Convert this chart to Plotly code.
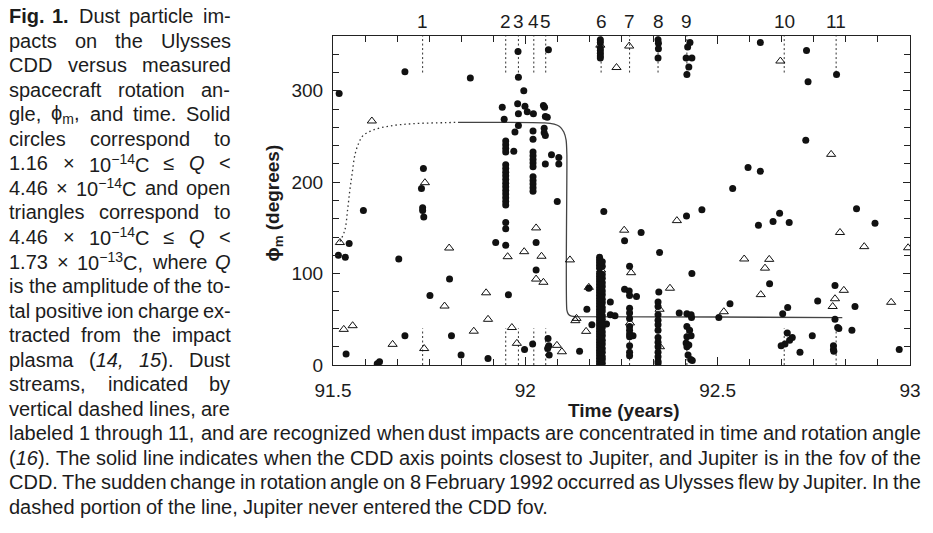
import re
import plotly.graph_objects as go

# ---------------- data ----------------
stream_t = [91.733, 91.949, 91.982, 92.022, 92.053, 92.197, 92.271, 92.345, 92.420, 92.673, 92.808]
stream_labels = ["1", "2", "3", "4", "5", "6", "7", "8", "9", "10", "11"]

# solid circles: 1.16e-14 C <= Q < 4.46e-14 C
circle_t = [
    91.516, 91.687, 91.857, 91.735, 91.730, 91.733, 91.733, 91.736, 91.579, 91.542,
    91.514, 91.532, 91.671, 91.803, 91.752, 91.687, 91.808, 91.534, 91.615, 91.621,
    91.833, 91.903, 91.923, 91.940, 91.945,
    91.949, 91.949, 91.949, 91.949, 91.949, 91.949, 91.949, 91.949, 91.949, 91.949,
    91.949, 91.949, 91.949, 91.949, 91.949, 91.949, 91.949, 91.949, 91.949,
    91.956, 91.970, 91.973, 91.982, 91.981, 91.982, 91.996, 91.980, 91.999, 92.005,
    92.021, 91.982, 92.060, 92.047, 92.050, 92.052, 92.057, 92.049, 92.049, 92.052,
    92.020, 92.020,
    92.020, 92.020, 92.020, 92.020, 92.020, 92.020, 92.020, 92.020, 92.020, 92.020,
    92.068, 92.087, 92.052, 92.087, 92.083, 92.028, 92.028, 91.998, 92.019, 92.059,
    92.061, 92.058, 92.062, 92.141, 92.165, 92.160, 92.173, 92.204, 92.221, 92.221,
    92.233, 92.211,
    92.195, 92.195, 92.195, 92.195, 92.195, 92.195, 92.195,
    92.193, 92.193, 92.193, 92.193, 92.193, 92.193, 92.193, 92.193, 92.193, 92.193,
    92.193, 92.193, 92.193, 92.193, 92.193, 92.193, 92.193, 92.193, 92.193, 92.193,
    92.193, 92.193, 92.193, 92.193, 92.193, 92.193, 92.193, 92.193, 92.193, 92.193,
    92.193, 92.193, 92.193, 92.193, 92.193, 92.193, 92.193, 92.193, 92.193,
    92.200, 92.200, 92.200, 92.200, 92.200, 92.200, 92.200, 92.200, 92.200, 92.200,
    92.200, 92.200, 92.200, 92.200, 92.200, 92.200, 92.200, 92.200, 92.200, 92.200,
    92.200, 92.200, 92.200, 92.200, 92.200,
    92.258, 92.301, 92.271, 92.258, 92.270, 92.271, 92.289,
    92.271, 92.271, 92.271, 92.271, 92.271, 92.271, 92.271, 92.271, 92.271, 92.271,
    92.280,
    92.349, 92.347, 92.345, 92.345,
    92.345, 92.345, 92.345, 92.345, 92.345, 92.345, 92.345, 92.345, 92.345, 92.345, 92.345,
    92.345, 92.346, 92.346, 92.345,
    92.428, 92.422, 92.418, 92.433, 92.425, 92.420,
    92.433, 92.400, 92.420, 92.431, 92.432, 92.420, 92.427, 92.420, 92.431, 92.418,
    92.425, 92.420, 92.423, 92.430, 92.434,
    92.419, 92.459,
    92.503, 92.532, 92.606, 92.644, 92.661, 92.686, 92.635, 92.579, 92.611, 92.539,
    92.611, 92.731, 92.735, 92.809, 92.729, 92.861, 92.909, 92.669, 92.682, 92.760,
    92.681, 92.694, 92.687, 92.675, 92.665, 92.714, 92.746,
    92.805, 92.805, 92.812, 92.815, 92.801, 92.801, 92.802, 92.857, 92.849, 92.972,
]
circle_phi = [
    297, 321, 314, 215, 193, 172, 169, 162, 169, 133,
    120, 118, 116, 94, 76, 32, 32, 12, 1.5, 3.5,
    11, 7, 134, 282, 269,
    245, 241, 237, 233, 219, 215, 211, 207, 203, 199,
    195, 191, 187, 183, 179, 175, 156, 149, 131,
    77, 234, 255, 262, 343, 315, 300, 286, 283, 277,
    275, 275, 345, 284, 282, 272, 271, 259, 254, 251,
    256, 247,
    233, 229, 225, 221, 217, 206, 202, 198, 194, 190,
    230, 227, 220, 220, 179, 134, 104, 17, 23, 29,
    21, 18, 11, 15, 84, 61, 44, 168, 69, 55,
    54, 45,
    356, 353, 347, 344, 341, 338, 336,
    1, 4, 7, 10, 13, 16, 19, 22, 25, 28,
    31, 34, 37, 40, 43, 46, 49, 52, 55, 58,
    61, 64, 67, 70, 73, 76, 79, 82, 85, 88,
    91, 94, 97, 100, 106, 109, 112, 115, 118,
    2, 6, 9, 14, 18, 23, 27, 32, 36, 41,
    45, 50, 54, 59, 63, 68, 72, 77, 81, 86,
    90, 95, 99, 108, 113,
    136, 145, 108, 83, 81, 76, 75,
    62, 57, 51, 42, 38, 34, 31, 21, 14, 10,
    32,
    123, 80, 69, 64,
    55, 49, 44, 38, 30, 25, 20, 14, 9, 4, 2,
    356, 352, 346, 336,
    353, 348, 336, 336, 326, 318,
    100, 57, 56, 55, 52, 42, 38, 31, 32, 24,
    22, 20, 11, 6, 5,
    163, 170,
    52, 67, 153, 157, 166, 156, 89, 216, 212, 193,
    353, 344, 310, 318, 246, 171, 155, 56, 63, 70,
    35, 30, 27, 23, 21, 14, 32,
    87, 50, 41, 40, 21, 17, 15, 64, 38, 17,
]

# open triangles: 4.46e-14 C <= Q < 1.73e-13 C
tri_t = [
    91.601, 91.739, 91.518, 91.802, 91.790, 91.898, 91.903, 91.528, 91.551, 91.655,
    91.737, 91.866, 91.954, 91.965, 91.978, 91.997, 92.028, 92.042, 92.028, 92.047,
    92.082, 92.095, 92.116, 92.130, 92.133, 92.158, 92.165, 92.270, 92.237, 92.257,
    92.275, 92.376, 92.349, 92.272, 92.350, 92.394, 92.516, 92.569, 92.612, 92.623,
    92.634, 92.663, 92.795, 92.818, 92.881, 92.995, 92.828, 92.805, 92.799, 92.951,
    92.197, 92.195,
]
tri_phi = [
    267, 199.5, 134, 128, 64.5, 79, 50, 39, 43, 22.6,
    18, 37, 118.5, 41, 23.7, 124, 150, 119, 94, 90.5,
    21.5, 14.5, 115, 48.5, 51, 36.8, 85, 349, 325.5, 147.5,
    101, 84, 61, 46, 20, 158, 58.3, 116, 77, 106,
    115.6, 332.6, 230.5, 145, 129.5, 128.3, 81.7, 72.5, 64, 68.6,
    104, 350,
]

# CDD axis closest to Jupiter: dotted part (Jupiter never in fov) and solid part
jup_dotted_t = [91.518, 91.531, 91.538, 91.544, 91.550, 91.557, 91.567, 91.578, 91.604, 91.647, 91.707, 91.793, 91.825]
jup_dotted_phi = [135, 148, 170, 192, 210, 230, 243, 251, 257, 261.5, 264, 265.2, 265.5]
jup_solid_t = [91.825, 92.050, 92.075, 92.089, 92.100, 92.106, 92.108, 92.108, 92.112, 92.120, 92.135, 92.500, 92.824]
jup_solid_phi = [265.5, 265, 263.5, 261, 255, 246, 230, 60, 55.5, 53.5, 53, 52.5, 51.8]

x_tick_vals = [91.5, 92, 92.5, 93]
x_tick_text = ["91.5", "92", "92.5", "93"]
y_tick_vals = [0, 100, 200, 300]
y_tick_text = ["0", "100", "200", "300"]

# caption text, line by line (words separated by spaces)
caption_column = [
    "<b>Fig.</b> <b>1.</b> Dust particle im-",
    "pacts on the Ulysses",
    "CDD versus measured",
    "spacecraft rotation an-",
    "gle, ϕ<sub>m</sub>, and time. Solid",
    "circles correspond to",
    "1.16 × 10<sup>−14</sup>C ≤ <i>Q</i> &lt;",
    "4.46 × 10<sup>−14</sup>C and open",
    "triangles correspond to",
    "4.46 × 10<sup>−14</sup>C ≤ <i>Q</i> &lt;",
    "1.73 × 10<sup>−13</sup>C, where <i>Q</i>",
    "is the amplitude of the to-",
    "tal positive ion charge ex-",
    "tracted from the impact",
    "plasma (<i>14,</i> <i>15</i>). Dust",
    "streams, indicated by",
    "vertical dashed lines, are",
]
caption_wide = [
    "labeled 1 through 11, and are recognized when dust impacts are concentrated in time and rotation angle",
    "(<i>16</i>). The solid line indicates when the CDD axis points closest to Jupiter, and Jupiter is in the fov of the",
    "CDD. The sudden change in rotation angle on 8 February 1992 occurred as Ulysses flew by Jupiter. In the",
]
caption_last = "dashed portion of the line, Jupiter never entered the CDD fov."

# ---------------- layout geometry ----------------
W, H = 933, 533
L, R, T, B = 333, 916, 36, 365
FONT = "Liberation Sans, Arial, Helvetica, sans-serif"
INK = "#1c1c1c"


def px_x(px):
    return (px - L) / (R - L)


def px_y(py):
    return (B - py) / (B - T)


# Arial / Liberation Sans advance widths (1/1000 em)
CW = {' ': 278, '!': 278, '(': 333, ')': 333, ',': 278, '-': 333, '.': 278, '<': 584, '=': 584,
      '>': 584, '≤': 549, '×': 584, '−': 584, 'ϕ': 600}
for ch in '0123456789':
    CW[ch] = 556
CW.update(dict(zip('ABCDEFGHIJKLMNOPQRSTUVWXYZ',
                   [667, 667, 722, 722, 667, 611, 778, 722, 278, 500, 667, 556, 833, 722, 778, 667,
                    778, 722, 667, 611, 722, 667, 944, 667, 667, 611])))
CW.update(dict(zip('abcdefghijklmnopqrstuvwxyz',
                   [556, 556, 500, 556, 556, 278, 556, 556, 222, 222, 500, 222, 833, 556, 556, 556,
                    556, 333, 500, 278, 556, 500, 722, 500, 500, 500])))

FS = 20  # caption font size


def tok_width(tok):
    w = 0.0
    scale = 1.0
    for part in re.split(r'(<sup>|</sup>|<sub>|</sub>)', tok):
        if part in ('<sup>', '<sub>'):
            scale = 0.7
            continue
        if part in ('</sup>', '</sub>'):
            scale = 1.0
            continue
        plain = re.sub(r'<[^>]+>', '', part).replace('&lt;', '<')
        w += sum(CW.get(c, 556) for c in plain) * scale
    return w * FS / 1000.0


annotations = []


def place_line(markup, y_center, x_left, x_right=None):
    words = markup.split(' ')
    widths = [tok_width(wd) for wd in words]
    if x_right is None or len(words) == 1:
        gap = CW[' '] * FS / 1000.0
    else:
        gap = (x_right - x_left - sum(widths)) / (len(words) - 1)
    x = x_left
    for wd, w in zip(words, widths):
        annotations.append(dict(
            text=wd, x=px_x(x - 2), y=px_y(y_center), xref="paper", yref="paper",
            xanchor="left", yanchor="middle", showarrow=False,
            font=dict(family=FONT, size=FS, color=INK)))
        x += w + gap


LINE0, LSTEP = 16, 24.55
for i, ln in enumerate(caption_column):
    place_line(ln, LINE0 + LSTEP * i, 6, 229)
for j, ln in enumerate(caption_wide):
    place_line(ln, LINE0 + LSTEP * (len(caption_column) + j), 6, 927)
place_line(caption_last, LINE0 + LSTEP * (len(caption_column) + len(caption_wide)), 6)

# stream labels above the frame
for t, lab in zip(stream_t, stream_labels):
    annotations.append(dict(text=lab, x=t, y=px_y(22), xref="x", yref="paper",
                            xanchor="center", yanchor="middle", showarrow=False,
                            font=dict(family=FONT, size=19, color=INK)))

# axis titles
annotations.append(dict(text="<b>Time (years)</b>", x=px_x(627), y=px_y(410), xref="paper", yref="paper",
                        xanchor="center", yanchor="middle", showarrow=False,
                        font=dict(family=FONT, size=19, color=INK)))
annotations.append(dict(text="<b>ϕ<sub>m</sub> (degrees)</b>", x=px_x(273), y=px_y(203), xref="paper",
                        yref="paper", xanchor="center", yanchor="middle", showarrow=False, textangle=-90,
                        font=dict(family=FONT, size=19, color=INK)))

# ---------------- traces ----------------
fig = go.Figure()

sx, sy = [], []
for t in stream_t:
    sx += [t, t, None, t, t, None]
    sy += [320, 360, None, 0, 40, None]
fig.add_trace(go.Scatter(x=sx, y=sy, mode="lines", hoverinfo="skip",
                         line=dict(color="#333333", width=1, dash="2px,2.5px")))

fig.add_trace(go.Scatter(x=jup_dotted_t, y=jup_dotted_phi, mode="lines", line_shape="spline",
                         line=dict(color="#333333", width=1.3, dash="1.5px,3px")))
fig.add_trace(go.Scatter(x=jup_solid_t, y=jup_solid_phi, mode="lines", line_shape="spline",
                         line=dict(color="#444444", width=1.3, smoothing=0.6)))

fig.add_trace(go.Scatter(x=tri_t, y=tri_phi, mode="markers",
                         marker=dict(symbol="triangle-up-open", size=8, color="#111111",
                                     line=dict(width=1, color="#111111"))))
fig.add_trace(go.Scatter(x=circle_t, y=circle_phi, mode="markers",
                         marker=dict(symbol="circle", size=7, color="#111111", line=dict(width=0))))

axis_common = dict(showline=True, linecolor="#222222", linewidth=1.2, mirror="allticks",
                   ticks="inside", tickcolor="#222222", tickwidth=1, showgrid=False, zeroline=False,
                   tickfont=dict(family=FONT, size=19, color=INK))

fig.update_layout(
    width=W, height=H,
    margin=dict(l=L, r=W - R, t=T, b=H - B, pad=0),
    paper_bgcolor="white", plot_bgcolor="white",
    showlegend=False,
    xaxis=dict(range=[91.5, 93], tickvals=x_tick_vals, ticktext=x_tick_text, ticklen=8,
               ticklabelstandoff=8,
               minor=dict(ticks="inside", ticklen=6, tick0=91.5, dtick=1 / 12, tickcolor="#222222",
                          showgrid=False),
               **axis_common),
    yaxis=dict(range=[0, 360], tickvals=y_tick_vals, ticktext=y_tick_text, ticklen=7,
               ticklabelstandoff=5,
               minor=dict(ticks="inside", ticklen=6, tick0=0, dtick=20, tickcolor="#222222",
                          showgrid=False),
               **axis_common),
    annotations=annotations,
)

fig.write_html("out.html")
